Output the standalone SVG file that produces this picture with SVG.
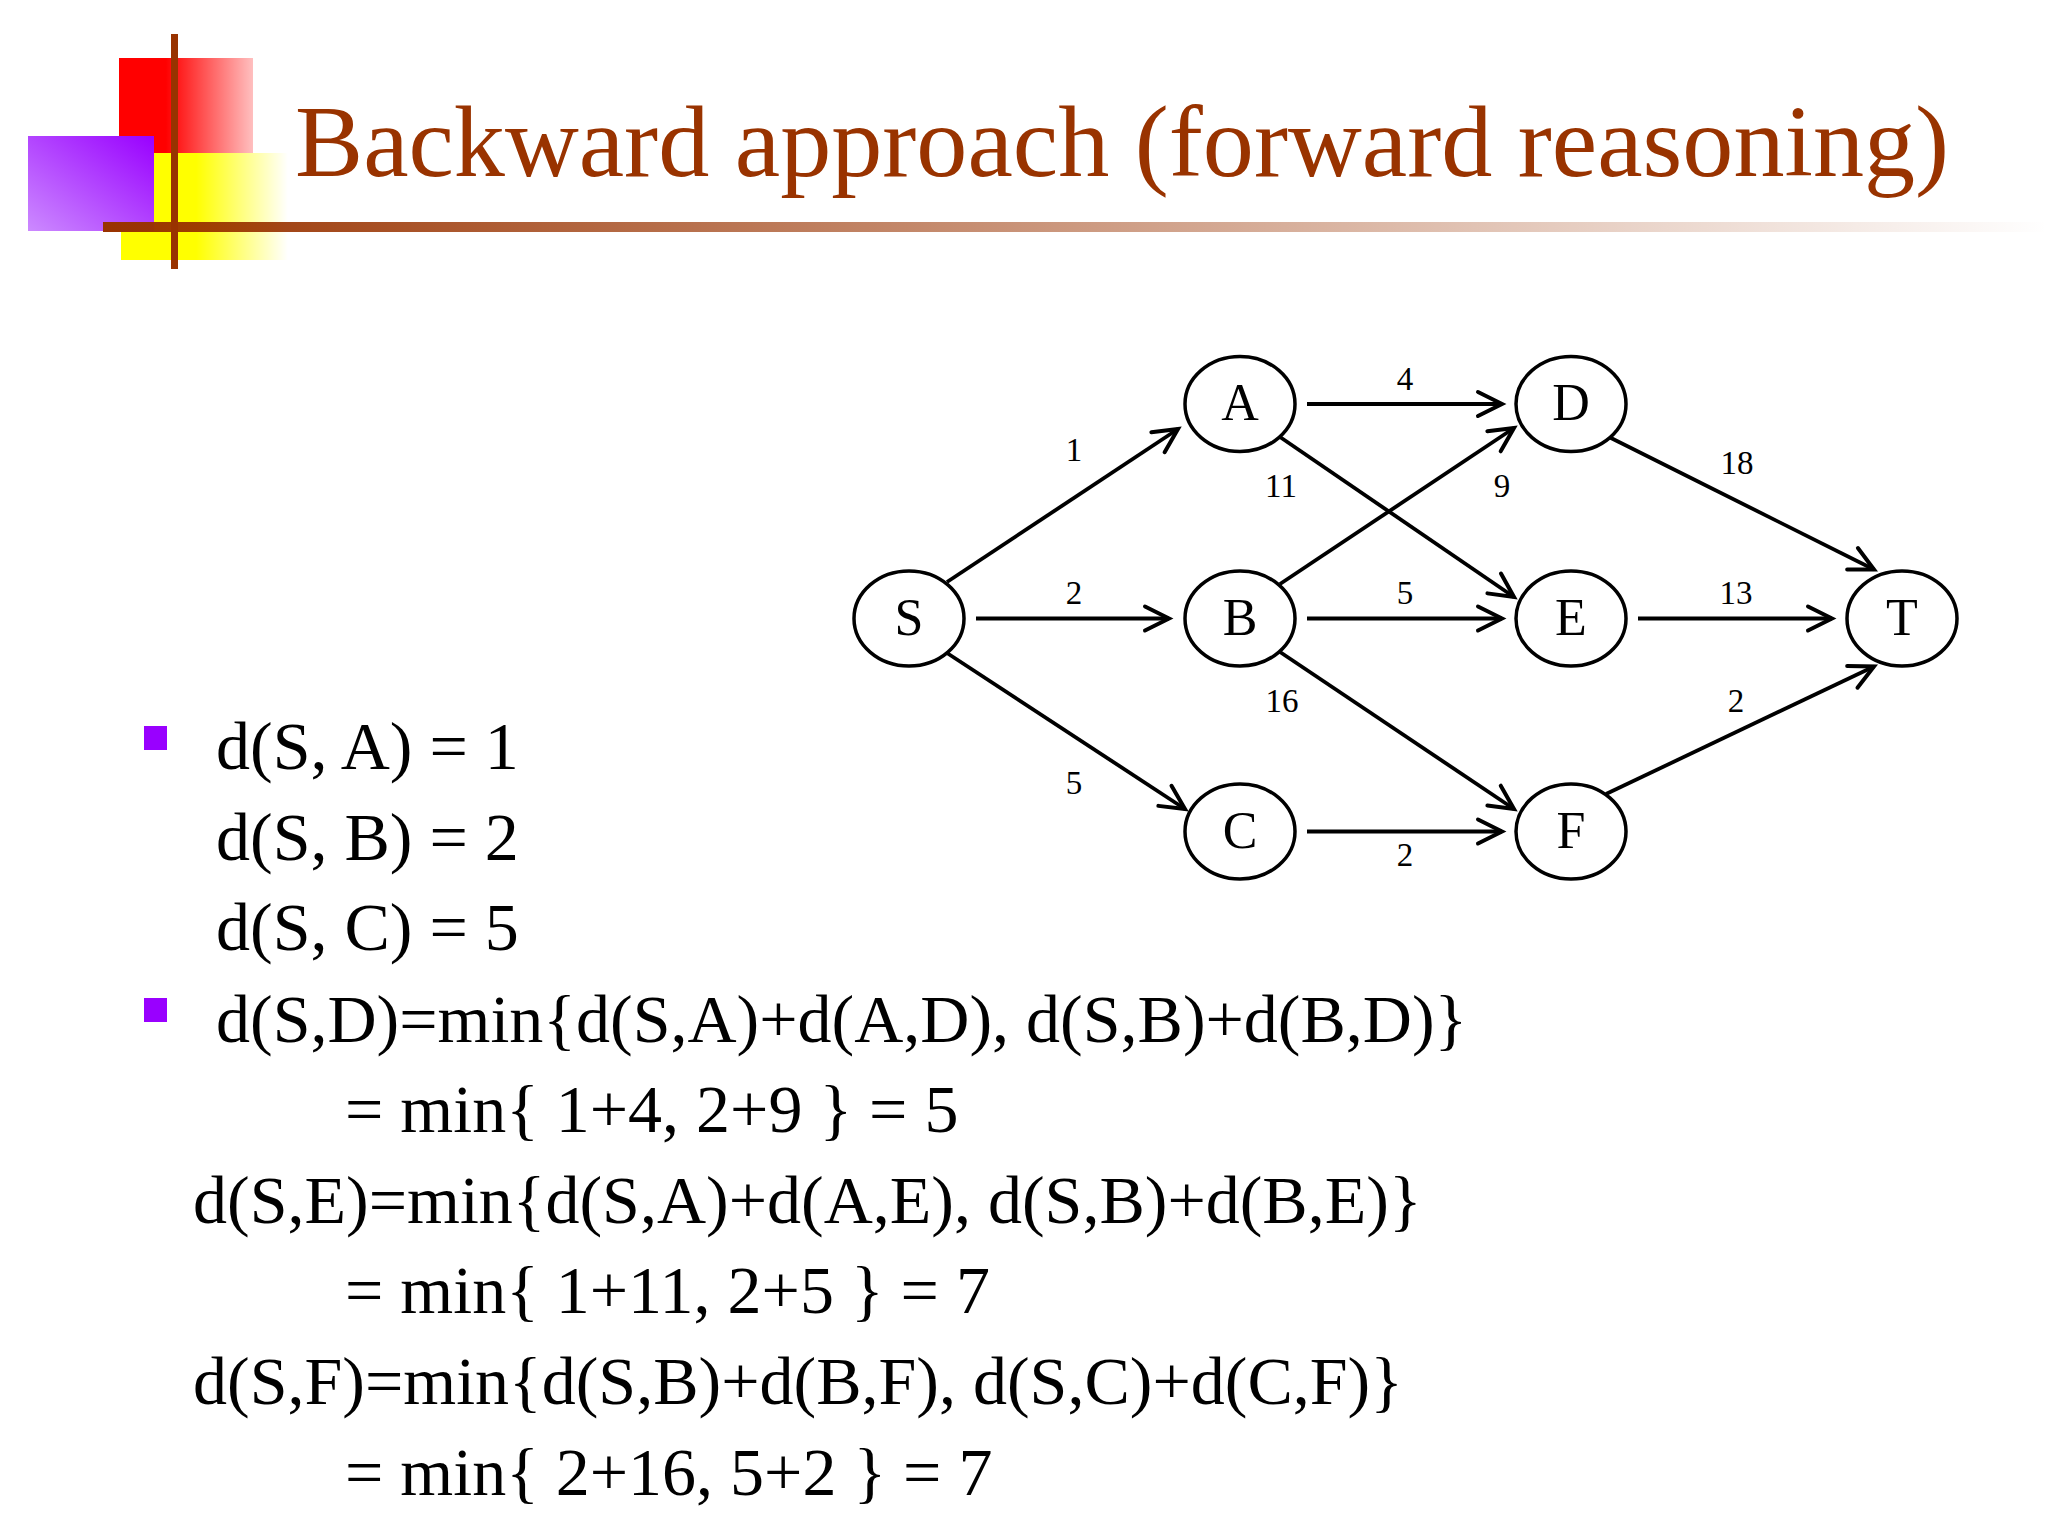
<svg xmlns="http://www.w3.org/2000/svg" width="2048" height="1536" viewBox="0 0 2048 1536">
<defs>
<linearGradient id="gr" x1="0" x2="1" y1="0" y2="0"><stop offset="0.35" stop-color="#f00"/><stop offset="1" stop-color="#f00" stop-opacity="0.25"/></linearGradient>
<linearGradient id="gy" x1="0" x2="1" y1="0" y2="0"><stop offset="0.45" stop-color="#ff0"/><stop offset="1" stop-color="#ff0" stop-opacity="0"/></linearGradient>
<linearGradient id="gp" x1="1" x2="0" y1="0" y2="1"><stop offset="0" stop-color="#90f"/><stop offset="1" stop-color="#cc8aff"/></linearGradient>
<linearGradient id="gl" gradientUnits="userSpaceOnUse" x1="103" x2="2048" y1="0" y2="0"><stop offset="0" stop-color="#993300"/><stop offset="1" stop-color="#993300" stop-opacity="0"/></linearGradient>
<marker id="arr" markerUnits="userSpaceOnUse" markerWidth="34" markerHeight="34" refX="28" refY="15" orient="auto" viewBox="0 0 34 30"><path d="M4 3 L28 15 L4 27" fill="none" stroke="#000" stroke-width="4" stroke-linecap="round"/></marker>
</defs>
<style>
text{font-family:"Liberation Serif","Times New Roman",serif}
.n ellipse{fill:#fff;stroke:#000;stroke-width:3.5}
.n text{font-size:52px;text-anchor:middle;fill:#000}
#connectors line{stroke:#000;stroke-width:3.8;marker-end:url(#arr)}
.w{font-size:33px;text-anchor:middle;fill:#000}
.b{font-size:68px;fill:#000}
.sq{fill:#90f}
</style>
<rect width="2048" height="1536" fill="#fff"/>
<g id="decor">
<rect x="119" y="58" width="134" height="95" fill="url(#gr)"/>
<rect x="121" y="153" width="167" height="107" fill="url(#gy)"/>
<rect x="28" y="136" width="126" height="95" fill="url(#gp)"/>
<rect x="103" y="222" width="1945" height="10" fill="url(#gl)"/>
<rect x="171" y="34" width="7" height="235" fill="#993300"/>
</g>
<text id="title" x="295" y="176" font-size="102.2" fill="#993300">Backward approach (forward reasoning)</text>
<g id="connectors">
<line x1="947" y1="582" x2="1178" y2="429"/>
<line x1="976" y1="618.5" x2="1169" y2="618.5"/>
<line x1="947" y1="653" x2="1185" y2="809"/>
<line x1="1307" y1="404" x2="1502" y2="404"/>
<line x1="1280" y1="437" x2="1514" y2="597"/>
<line x1="1280" y1="584" x2="1514" y2="428"/>
<line x1="1307" y1="618.5" x2="1502" y2="618.5"/>
<line x1="1280" y1="652" x2="1514" y2="809"/>
<line x1="1307" y1="831.5" x2="1502" y2="831.5"/>
<line x1="1609" y1="437" x2="1874" y2="569.5"/>
<line x1="1638" y1="618.5" x2="1832" y2="618.5"/>
<line x1="1606" y1="794" x2="1874" y2="666.5"/>
</g>
<g id="S" class="n"><ellipse cx="909" cy="618.5" rx="55" ry="47.5"/><text x="909" y="635">S</text></g>
<g id="A" class="n"><ellipse cx="1240" cy="404" rx="55" ry="47.5"/><text x="1240" y="420">A</text></g>
<g id="B" class="n"><ellipse cx="1240" cy="618.5" rx="55" ry="47.5"/><text x="1240" y="635">B</text></g>
<g id="C" class="n"><ellipse cx="1240" cy="831.5" rx="55" ry="47.5"/><text x="1240" y="848">C</text></g>
<g id="D" class="n"><ellipse cx="1571" cy="404" rx="55" ry="47.5"/><text x="1571" y="420">D</text></g>
<g id="E" class="n"><ellipse cx="1571" cy="618.5" rx="55" ry="47.5"/><text x="1571" y="635">E</text></g>
<g id="F" class="n"><ellipse cx="1571" cy="831.5" rx="55" ry="47.5"/><text x="1571" y="848">F</text></g>
<g id="T" class="n"><ellipse cx="1902" cy="618.5" rx="55" ry="47.5"/><text x="1902" y="635">T</text></g>
<g id="weights">
<text class="w" x="1074" y="461">1</text>
<text class="w" x="1074" y="604">2</text>
<text class="w" x="1074" y="794">5</text>
<text class="w" x="1405" y="390">4</text>
<text class="w" x="1281" y="497">11</text>
<text class="w" x="1502" y="497">9</text>
<text class="w" x="1405" y="604">5</text>
<text class="w" x="1282" y="712">16</text>
<text class="w" x="1405" y="866">2</text>
<text class="w" x="1737" y="474">18</text>
<text class="w" x="1736" y="604">13</text>
<text class="w" x="1736" y="712">2</text>
</g>
<g id="body">
<rect class="sq" x="144" y="726" width="23" height="24"/>
<rect class="sq" x="144" y="998" width="23" height="24"/>
<text class="b" x="216" y="769">d(S, A) = 1</text>
<text class="b" x="216" y="860">d(S, B) = 2</text>
<text class="b" x="216" y="950">d(S, C) = 5</text>
<text class="b" x="216" y="1042">d(S,D)=min{d(S,A)+d(A,D), d(S,B)+d(B,D)}</text>
<text class="b" x="345" y="1132">= min{ 1+4, 2+9 } = 5</text>
<text class="b" x="193" y="1223">d(S,E)=min{d(S,A)+d(A,E), d(S,B)+d(B,E)}</text>
<text class="b" x="345" y="1313">= min{ 1+11, 2+5 } = 7</text>
<text class="b" x="193" y="1404">d(S,F)=min{d(S,B)+d(B,F), d(S,C)+d(C,F)}</text>
<text class="b" x="345" y="1495">= min{ 2+16, 5+2 } = 7</text>
</g>
</svg>
